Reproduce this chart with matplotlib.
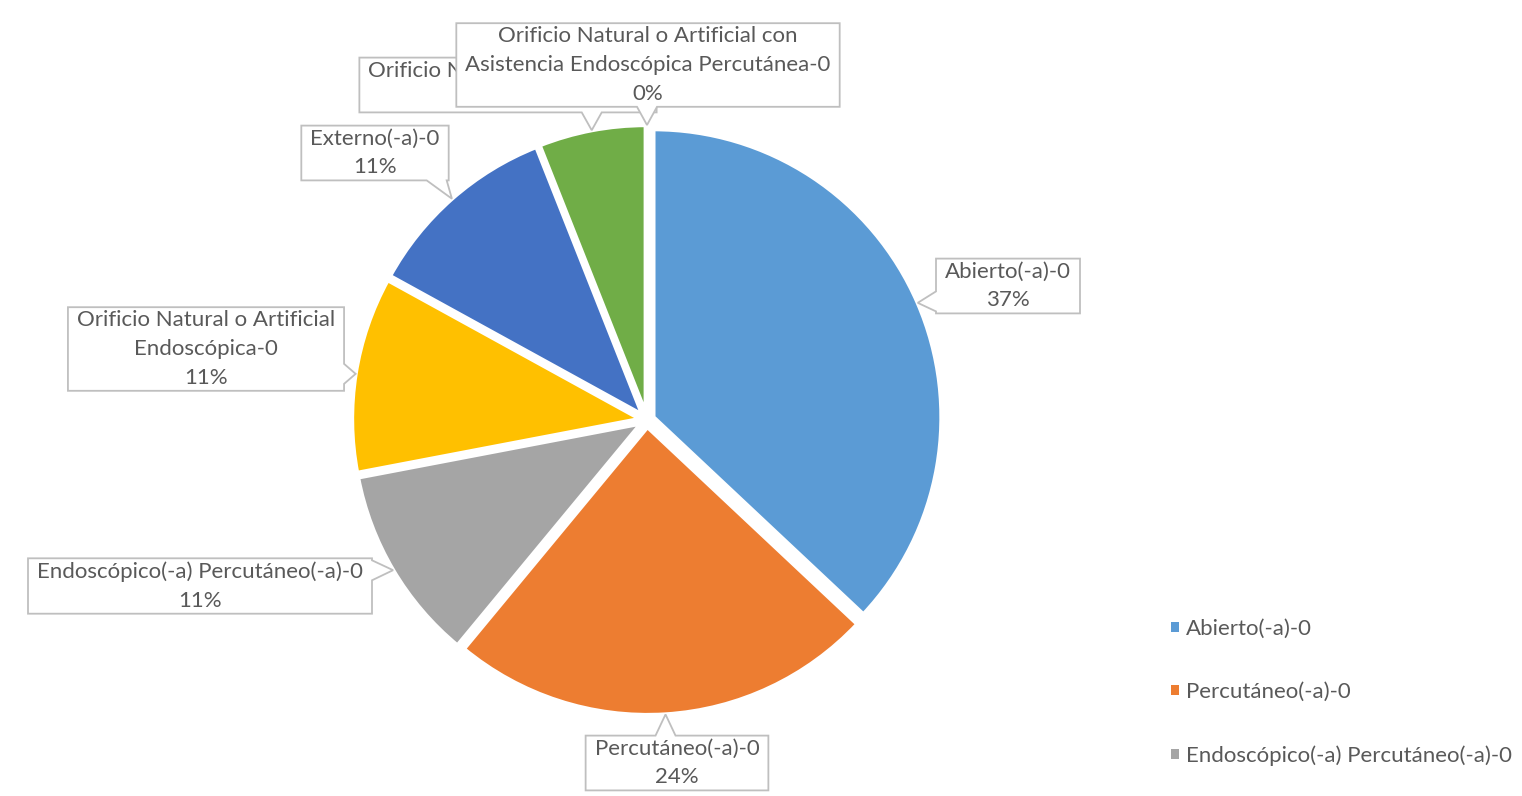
import textwrap
import numpy as np
import matplotlib.pyplot as plt
from matplotlib.patches import Polygon, Patch

plt.rcParams['font.family'] = ['Lato', 'DejaVu Sans']

labels = ['Abierto(-a)-0', 'Percutáneo(-a)-0', 'Endoscópico(-a) Percutáneo(-a)-0',
          'Orificio Natural o Artificial Endoscópica-0', 'Externo(-a)-0',
          'Orificio Natural o Artificial-0',
          'Orificio Natural o Artificial con Asistencia Endoscópica Percutánea-0']
values = [37, 24, 11, 11, 11, 6, 0]
colors = ['#5B9BD5', '#ED7D31', '#A5A5A5', '#FFC000', '#4472C4', '#70AD47', '#255E91']
wrap_width = [None, None, None, 30, None, None, 35]
# label box centres, pixels from top-left
label_pos = [(1008, 286), (677, 763), (200, 586), (206, 349), (375, 153), (508, 85), (648, 65)]
label_z = [3, 3, 3, 3, 3, 3, 5]

W, H = 1522, 796
FS = 16
fig = plt.figure(figsize=(W / 100, H / 100), dpi=100)
ax = fig.add_axes([0, 0, 1, 1])
# explode is in data units (pixels here)
wedges, _ = ax.pie(values, colors=colors, startangle=90, counterclock=False,
                   center=(647, H - 420), radius=288, explode=[7] * len(values),
                   wedgeprops=dict(edgecolor='white', linewidth=3))
ax.set_xlim(0, W)
ax.set_ylim(0, H)
ax.set_aspect('equal')
ax.axis('off')


def callout(x0, y0, x1, y1, tip, z):
    tx, ty = tip
    d = {'left': x0 - tx, 'right': tx - x1, 'bottom': y0 - ty, 'top': ty - y1}
    side = max(d, key=d.get)
    hw = 10
    if side in ('left', 'right'):
        c = np.clip(ty, y0 + hw + 2, y1 - hw - 2)
    else:
        c = np.clip(tx, x0 + hw + 2, x1 - hw - 2)
    pts = [(x0, y0)]
    if side == 'bottom':
        pts += [(c - hw, y0), (tx, ty), (c + hw, y0)]
    pts.append((x1, y0))
    if side == 'right':
        pts += [(x1, c - hw), (tx, ty), (x1, c + hw)]
    pts.append((x1, y1))
    if side == 'top':
        pts += [(c + hw, y1), (tx, ty), (c - hw, y1)]
    pts.append((x0, y1))
    if side == 'left':
        pts += [(x0, c + hw), (tx, ty), (x0, c - hw)]
    ax.add_patch(Polygon(pts, closed=True, facecolor='white', edgecolor='#BFBFBF',
                         linewidth=1.3, zorder=z))


fig.canvas.draw()
rend = fig.canvas.get_renderer()
total = sum(values)
for i, w in enumerate(wedges):
    name = labels[i]
    if wrap_width[i]:
        name = textwrap.fill(name, wrap_width[i], break_on_hyphens=False)
    pct = round(values[i] / total * 100)
    cx, cy = label_pos[i]
    t = ax.text(cx, H - cy, f'{name}\n{pct}%', ha='center', va='center', fontsize=FS,
                color='#595959', linespacing=1.55, zorder=label_z[i] + 0.5)
    bb = t.get_window_extent(rend).transformed(ax.transData.inverted())
    mid = np.deg2rad((w.theta1 + w.theta2) / 2)
    tip = (w.center[0] + w.r * np.cos(mid), w.center[1] + w.r * np.sin(mid))
    callout(bb.x0 - 9, bb.y0 - 3, bb.x1 + 9, bb.y1 + 3, tip, label_z[i])

handles = [Patch(facecolor=c) for c in colors[:3]]
leg = ax.legend(handles, labels[:3], loc='upper left', bbox_to_anchor=(1171 / W, 1 - 619 / H),
                frameon=False, fontsize=FS, labelspacing=1.94, handlelength=0.36,
                handleheight=0.36, handletextpad=0.3, borderpad=0, borderaxespad=0)
for t in leg.get_texts():
    t.set_color('#595959')

fig.savefig('out.png', dpi=100)
